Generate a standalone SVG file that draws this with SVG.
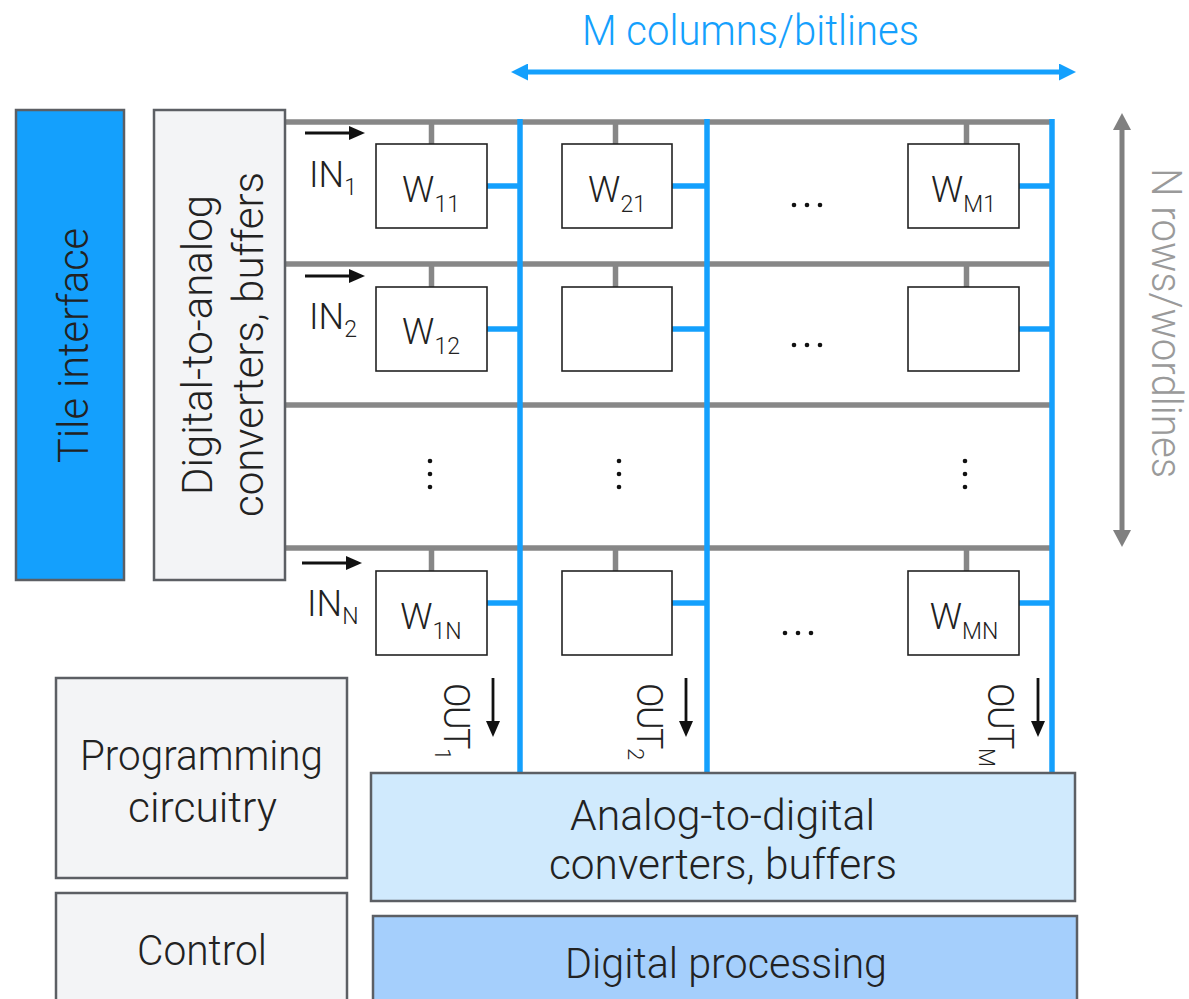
<svg xmlns="http://www.w3.org/2000/svg" width="1189" height="999" viewBox="0 0 1189 999">
<defs>
<style>
text { font-family: Roboto, "Liberation Sans", sans-serif; font-weight: 300; fill: #222; }
.big { font-size: 42px; }
.lbl { font-size: 36px; }
.sub { font-size: 23px; }
.out { font-size: 36px; letter-spacing: -1.5px; }
.osub { font-size: 22px; letter-spacing: 0; }
.box { stroke: #5c5f64; stroke-width: 2.5; }
.cell { fill: #fff; stroke: #222; stroke-width: 1.6; }
.row { stroke: #878787; stroke-width: 5.5; fill: none; }
.bit { stroke: #14a0fd; stroke-width: 5.5; fill: none; }
.arr { stroke: #111; stroke-width: 2.8; fill: none; marker-end: url(#ab); }
.dot { fill: #111; }
</style>
<marker id="ab" markerUnits="userSpaceOnUse" markerWidth="16" markerHeight="14" viewBox="0 0 16 14" refX="1" refY="7" orient="auto"><path d="M0,0 L16,7 L0,14 z" fill="#111"/></marker>
<marker id="abl" markerUnits="userSpaceOnUse" markerWidth="17" markerHeight="17" viewBox="0 0 17 17" refX="1" refY="8.5" orient="auto-start-reverse"><path d="M0,0 L17,8.5 L0,17 z" fill="#14a0fd"/></marker>
<marker id="agr" markerUnits="userSpaceOnUse" markerWidth="17" markerHeight="18" viewBox="0 0 17 18" refX="1" refY="9" orient="auto-start-reverse"><path d="M0,0 L17,9 L0,18 z" fill="#808080"/></marker>
</defs>
<rect width="1189" height="999" fill="#fff"/>

<g id="connectors">
  <line class="row" x1="285" y1="122" x2="1052" y2="122"/>
  <line class="row" x1="285" y1="264" x2="1052" y2="264"/>
  <line class="row" x1="285" y1="405" x2="1052" y2="405"/>
  <line class="row" x1="285" y1="548" x2="1052" y2="548"/>
  <line class="bit" x1="520" y1="119" x2="520" y2="773"/>
  <line class="bit" x1="707" y1="119" x2="707" y2="773"/>
  <line class="bit" x1="1052" y1="119" x2="1052" y2="773"/>
  <line class="row" x1="431.5" y1="122" x2="431.5" y2="144"/>
  <line class="row" x1="615.5" y1="122" x2="615.5" y2="144"/>
  <line class="row" x1="966.5" y1="122" x2="966.5" y2="144"/>
  <line class="row" x1="431.5" y1="264" x2="431.5" y2="287"/>
  <line class="row" x1="615.5" y1="264" x2="615.5" y2="287"/>
  <line class="row" x1="966.5" y1="264" x2="966.5" y2="287"/>
  <line class="row" x1="431.5" y1="548" x2="431.5" y2="571"/>
  <line class="row" x1="615.5" y1="548" x2="615.5" y2="571"/>
  <line class="row" x1="966.5" y1="548" x2="966.5" y2="571"/>
  <line class="bit" x1="487" y1="186" x2="520" y2="186"/>
  <line class="bit" x1="672" y1="186" x2="707" y2="186"/>
  <line class="bit" x1="1019" y1="186" x2="1052" y2="186"/>
  <line class="bit" x1="487" y1="329" x2="520" y2="329"/>
  <line class="bit" x1="672" y1="329" x2="707" y2="329"/>
  <line class="bit" x1="1019" y1="329" x2="1052" y2="329"/>
  <line class="bit" x1="487" y1="603" x2="520" y2="603"/>
  <line class="bit" x1="672" y1="603" x2="707" y2="603"/>
  <line class="bit" x1="1019" y1="603" x2="1052" y2="603"/>
  <line class="arr" x1="305" y1="133" x2="350" y2="133"/>
  <line class="arr" x1="305" y1="276" x2="350" y2="276"/>
  <line class="arr" x1="302" y1="563" x2="347" y2="563"/>
  <line class="arr" x1="493" y1="678" x2="493" y2="722"/>
  <line class="arr" x1="686" y1="678" x2="686" y2="722"/>
  <line class="arr" x1="1038" y1="678" x2="1038" y2="722"/>
  <line x1="527" y1="72" x2="1060" y2="72" stroke="#14a0fd" stroke-width="5" marker-start="url(#abl)" marker-end="url(#abl)"/>
  <line x1="1122" y1="129" x2="1122" y2="531" stroke="#808080" stroke-width="5" marker-start="url(#agr)" marker-end="url(#agr)"/>
</g>

<g id="tile-interface">
  <rect class="box" x="16" y="110" width="108" height="470" fill="#14a0fd"/>
  <text class="big" transform="translate(88,345.5) rotate(-90)" text-anchor="middle" textLength="235" lengthAdjust="spacingAndGlyphs">Tile interface</text>
</g>
<g id="dac">
  <rect class="box" x="154" y="110" width="131" height="470" fill="#f3f4f6"/>
  <text class="big" transform="translate(212,345) rotate(-90)" text-anchor="middle" textLength="300" lengthAdjust="spacingAndGlyphs">Digital-to-analog</text>
  <text class="big" transform="translate(263,344.5) rotate(-90)" text-anchor="middle" textLength="345" lengthAdjust="spacingAndGlyphs">converters, buffers</text>
</g>
<g id="programming">
  <rect class="box" x="56" y="678" width="291" height="200" fill="#f3f4f6"/>
  <text class="big" x="201.5" y="770" text-anchor="middle" textLength="243" lengthAdjust="spacingAndGlyphs">Programming</text>
  <text class="big" x="202.5" y="822" text-anchor="middle" textLength="149" lengthAdjust="spacingAndGlyphs">circuitry</text>
</g>
<g id="control">
  <rect class="box" x="56" y="893" width="291" height="120" fill="#f3f4f6"/>
  <text class="big" x="202" y="965" text-anchor="middle" textLength="130" lengthAdjust="spacingAndGlyphs">Control</text>
</g>
<g id="adc">
  <rect class="box" x="371" y="773" width="704" height="128" fill="#d0eafd"/>
  <text class="big" x="722.5" y="830" text-anchor="middle" textLength="305" lengthAdjust="spacingAndGlyphs">Analog-to-digital</text>
  <text class="big" x="723" y="879" text-anchor="middle" textLength="348" lengthAdjust="spacingAndGlyphs">converters, buffers</text>
</g>
<g id="digital-processing">
  <rect class="box" x="373" y="916" width="704" height="100" fill="#a5cffc"/>
  <text class="big" x="726" y="978" text-anchor="middle" textLength="322" lengthAdjust="spacingAndGlyphs">Digital processing</text>
</g>

<g id="cell-1-1"><rect class="cell" x="376" y="144" width="111" height="84"/><text class="lbl" x="431" y="202" text-anchor="middle">W<tspan class="sub" dy="10">11</tspan></text></g>
<g id="cell-2-1"><rect class="cell" x="562" y="144" width="110" height="84"/><text class="lbl" x="617" y="202" text-anchor="middle">W<tspan class="sub" dy="10">21</tspan></text></g>
<g id="cell-M-1"><rect class="cell" x="908" y="144" width="111" height="84"/><text class="lbl" x="963.5" y="202" text-anchor="middle">W<tspan class="sub" dy="10">M1</tspan></text></g>
<g id="cell-1-2"><rect class="cell" x="376" y="287" width="111" height="84"/><text class="lbl" x="431" y="344" text-anchor="middle">W<tspan class="sub" dy="10">12</tspan></text></g>
<g id="cell-2-2"><rect class="cell" x="562" y="287" width="110" height="84"/></g>
<g id="cell-M-2"><rect class="cell" x="908" y="287" width="111" height="84"/></g>
<g id="cell-1-N"><rect class="cell" x="376" y="571" width="111" height="84"/><text class="lbl" x="431" y="629" text-anchor="middle">W<tspan class="sub" dy="10">1N</tspan></text></g>
<g id="cell-2-N"><rect class="cell" x="562" y="571" width="110" height="84"/></g>
<g id="cell-M-N"><rect class="cell" x="908" y="571" width="111" height="84"/><text class="lbl" x="964" y="629" text-anchor="middle">W<tspan class="sub" dy="10">MN</tspan></text></g>

<g id="labels">
  <text class="big" x="750.5" y="45" text-anchor="middle" style="fill:#14a0fd" textLength="337" lengthAdjust="spacingAndGlyphs">M columns/bitlines</text>
  <text class="big" transform="translate(1152,323) rotate(90)" text-anchor="middle" style="fill:#9a9a9a" textLength="310" lengthAdjust="spacingAndGlyphs">N rows/wordlines</text>
  <text class="lbl" x="309" y="187">IN<tspan class="sub" dy="8">1</tspan></text>
  <text class="lbl" x="309" y="329">IN<tspan class="sub" dy="8">2</tspan></text>
  <text class="lbl" x="307" y="616">IN<tspan class="sub" dy="8">N</tspan></text>
  <text class="out" transform="translate(444,683) rotate(90)">OUT<tspan class="osub" dy="9">1</tspan></text>
  <text class="out" transform="translate(637,683) rotate(90)">OUT<tspan class="osub" dy="9">2</tspan></text>
  <text class="out" transform="translate(988,683) rotate(90)">OUT<tspan class="osub" dy="9">M</tspan></text>
</g>

<g id="ellipses">
  <circle class="dot" cx="794" cy="205" r="2.3"/><circle class="dot" cx="807" cy="205" r="2.3"/><circle class="dot" cx="820" cy="205" r="2.3"/>
  <circle class="dot" cx="794" cy="345" r="2.3"/><circle class="dot" cx="807" cy="345" r="2.3"/><circle class="dot" cx="820" cy="345" r="2.3"/>
  <circle class="dot" cx="785" cy="633" r="2.3"/><circle class="dot" cx="798" cy="633" r="2.3"/><circle class="dot" cx="811" cy="633" r="2.3"/>
  <circle class="dot" cx="430" cy="461" r="2.3"/><circle class="dot" cx="430" cy="474" r="2.3"/><circle class="dot" cx="430" cy="487" r="2.3"/>
  <circle class="dot" cx="619" cy="461" r="2.3"/><circle class="dot" cx="619" cy="474" r="2.3"/><circle class="dot" cx="619" cy="487" r="2.3"/>
  <circle class="dot" cx="965" cy="461" r="2.3"/><circle class="dot" cx="965" cy="474" r="2.3"/><circle class="dot" cx="965" cy="487" r="2.3"/>
</g>
</svg>
